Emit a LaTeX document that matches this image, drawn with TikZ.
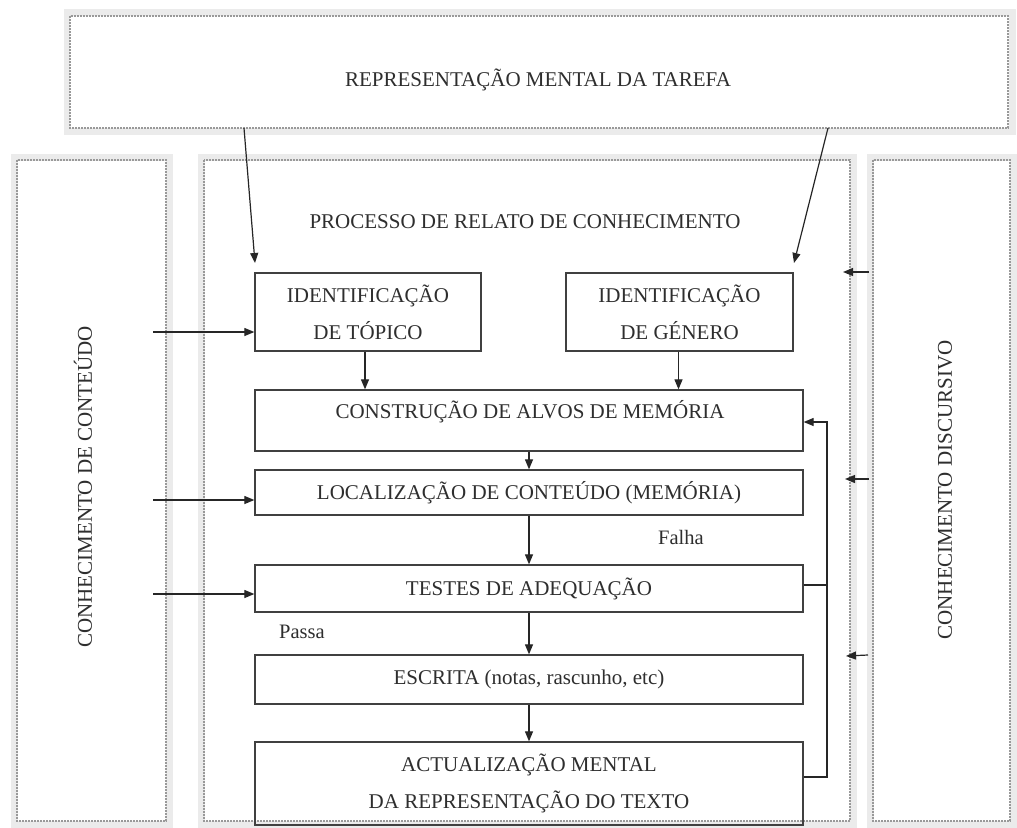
\documentclass[tikz,border=0pt]{standalone}
\usepackage{fontspec}
\setmainfont{Liberation Serif}
\usetikzlibrary{arrows.meta}
\definecolor{ink}{HTML}{2E2E2E}
\begin{document}
\begin{tikzpicture}[x=1pt,y=-1pt,
  box/.style={draw=black!75, line width=1.3pt, inner sep=0pt, align=center,
    font=\fontsize{21}{37}\selectfont, text=ink},
  txt/.style={inner sep=0pt, font=\fontsize{21}{25}\selectfont, text=ink},
  small/.style={inner sep=0pt, font=\fontsize{20.5}{24}\selectfont, text=ink},
  arr/.style={draw=black!85, line width=1.2pt, -{Triangle[length=10pt,width=8pt]}},
  plain/.style={draw=black!85, line width=1.2pt},
  shadow/.style={draw=black!8, line width=7pt},
  frame/.style={draw=black!40, line width=1.1pt, dash pattern=on 2pt off 1pt}]
\useasboundingbox (0,0) rectangle (1017,827);
\fill[white] (0,0) rectangle (1017,827);
% frames
\draw[shadow] (67,12) rectangle (1012,131);
\draw[shadow] (14,157) rectangle (169,824);
\draw[shadow] (201,157) rectangle (853,824);
\draw[shadow] (870,157) rectangle (1013,824);
\fill[white] (70,17) rectangle (1007,126);
\draw[frame] (70,16) rectangle (1008,128);
\draw[frame] (17,160) rectangle (166,821);
\draw[frame] (204,160) rectangle (850,821);
\draw[frame] (873,160) rectangle (1010,821);
% titles
\node[txt] (tarefa) at (538,80) {REPRESENTAÇÃO MENTAL DA TAREFA};
\node[txt] (processo) at (525,222) {PROCESSO DE RELATO DE CONHECIMENTO};
\node[txt, rotate=90] (conteudo) at (83,487) {CONHECIMENTO DE CONTEÚDO};
\node[txt, rotate=90] (discursivo) at (945,490) {CONHECIMENTO DISCURSIVO};
% boxes
\node[box, minimum width=226pt, minimum height=78pt] (topico) at (368,312) {IDENTIFICAÇÃO\\DE TÓPICO};
\node[box, minimum width=227pt, minimum height=78pt] (genero) at (679.5,312) {IDENTIFICAÇÃO\\DE GÉNERO};
\node[box, minimum width=548pt, minimum height=61pt] (const) at (529,420.5) {};
\node[txt] (consttxt) at (530,412) {CONSTRUÇÃO DE ALVOS DE MEMÓRIA};
\node[box, minimum width=548pt, minimum height=45pt] (loc) at (529,492.5) {LOCALIZAÇÃO DE CONTEÚDO (MEMÓRIA)};
\node[box, minimum width=548pt, minimum height=47pt] (testes) at (529,588.5) {TESTES DE ADEQUAÇÃO};
\node[box, minimum width=548pt, minimum height=49pt] (escrita) at (529,679.5) {ESCRITA (notas, rascunho, etc)};
\node[box, minimum width=548pt, minimum height=83pt, font=\fontsize{21}{37}\selectfont] (actual) at (529,783.5) {ACTUALIZAÇÃO MENTAL\\DA REPRESENTAÇÃO DO TEXTO};
\node[small] (falha) at (681,537) {Falha};
\node[small] (passa) at (302,632) {Passa};
% top arrows
\coordinate (t1) at (244,128);
\coordinate (t1e) at (255,263);
\coordinate (t2) at (828,128);
\coordinate (t2e) at (794,263);
\draw[arr] (t1) -- (t1e);
\draw[arr] (t2) -- (t2e);
% inner arrows
\draw[arr] ([xshift=-3pt]topico.south) -- ([xshift=-3pt]topico.south |- const.north);
\draw[arr] ([xshift=-1pt]genero.south) -- ([xshift=-1pt]genero.south |- const.north);
\draw[arr] (const.south) -- (loc.north);
\draw[arr] (loc.south) -- (testes.north);
\draw[arr] (testes.south) -- (escrita.north);
\draw[arr] (escrita.south) -- (actual.north);
% feedback
\coordinate (fb) at (827,422);
\draw[arr] ([yshift=6.5pt]actual.east) -| (fb) -- (fb -| const.east);
\draw[plain] ([yshift=3.5pt]testes.east) -- ([yshift=3.5pt]testes.east -| fb);
% left arrows
\coordinate (l1) at (153,332);
\coordinate (l2) at (153,500);
\coordinate (l3) at (153,594);
\draw[arr] (l1) -- (l1 -| topico.west);
\draw[arr] (l2) -- (l2 -| loc.west);
\draw[arr] (l3) -- (l3 -| testes.west);
% right arrows
\coordinate (r1) at (869,272);
\coordinate (r1e) at (843,272);
\coordinate (r2) at (869,479);
\coordinate (r2e) at (845,479);
\coordinate (r3) at (868,655);
\coordinate (r3e) at (846,656);
\draw[arr] (r1) -- (r1e);
\draw[arr] (r2) -- (r2e);
\draw[arr] (r3) -- (r3e);
\end{tikzpicture}
\end{document}
